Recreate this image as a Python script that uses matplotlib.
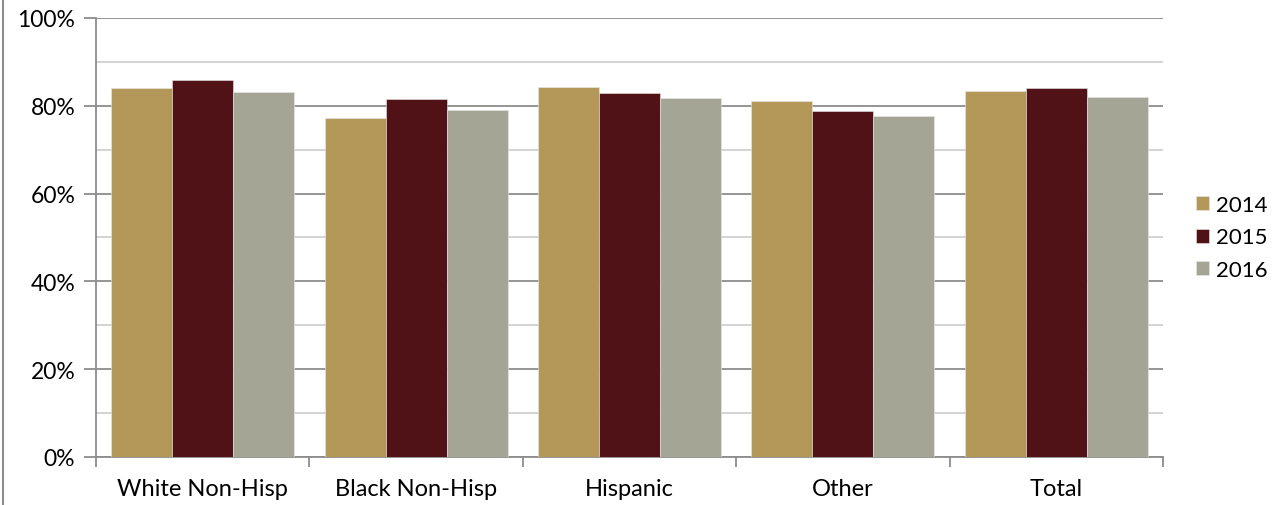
import numpy as np
import matplotlib
matplotlib.use('Agg')
import matplotlib.pyplot as plt
from matplotlib.lines import Line2D
from matplotlib.ticker import PercentFormatter, MultipleLocator

plt.rcParams['font.family'] = ['Lato', 'DejaVu Sans']

categories = ['White Non-Hisp', 'Black Non-Hisp', 'Hispanic', 'Other', 'Total']
years = ['2014', '2015', '2016']
vals_2014 = [84.0, 77.2, 84.2, 81.1, 83.3]
vals_2015 = [85.8, 81.5, 82.9, 78.7, 84.0]
vals_2016 = [83.2, 79.0, 81.7, 77.6, 81.9]
colors = ['#B4985A', '#501216', '#A5A595']

fig = plt.figure(figsize=(12.87, 5.06), dpi=100)
ax = fig.add_axes([0.0746, 0.0949, 0.829, 0.8676])

x = np.arange(len(categories))
w = 0.286
for i, (vals, c, lab) in enumerate(zip([vals_2014, vals_2015, vals_2016], colors, years)):
    ax.bar(x + (i - 1) * w, vals, w, color=c, label=lab, zorder=3,
           edgecolor='#e8e8e8', linewidth=0.4)

ax.set_xlim(-0.5, len(categories) - 0.5)
ax.set_ylim(0, 100)
ax.yaxis.set_major_locator(MultipleLocator(20))
ax.yaxis.set_minor_locator(MultipleLocator(10))
ax.yaxis.set_major_formatter(PercentFormatter(decimals=0))
ax.grid(axis='y', which='major', color='#8c8c8c', linewidth=1.3, zorder=0)
ax.grid(axis='y', which='minor', color='#d0d0d0', linewidth=1.3, zorder=0)

ax.set_xticks(np.arange(len(categories) + 1) - 0.5)
ax.set_xticklabels([])
ax.set_xticks(x, minor=True)
ax.set_xticklabels(categories, minor=True)
ax.tick_params(axis='x', which='major', length=7, color='#8c8c8c', width=1.3, direction='out')
ax.tick_params(axis='x', which='minor', length=0, labelsize=17, pad=15)
ax.tick_params(axis='y', which='major', length=9, color='#8c8c8c', width=1.3, labelsize=16.5, pad=6)
ax.tick_params(axis='y', which='minor', length=0)

for s in ['top', 'right']:
    ax.spines[s].set_visible(False)
for s in ['left', 'bottom']:
    ax.spines[s].set_color('#8c8c8c')
    ax.spines[s].set_linewidth(1.3)

ax.legend(loc='center left', bbox_to_anchor=(1.012, 0.5), frameon=False, fontsize=16,
          handlelength=0.6, handleheight=0.6, handletextpad=0.3, labelspacing=0.55)

fig.add_artist(Line2D([0.0023, 0.0023], [0, 1], color='#8c8c8c', linewidth=1.5))

fig.savefig('out.png', dpi=100)
